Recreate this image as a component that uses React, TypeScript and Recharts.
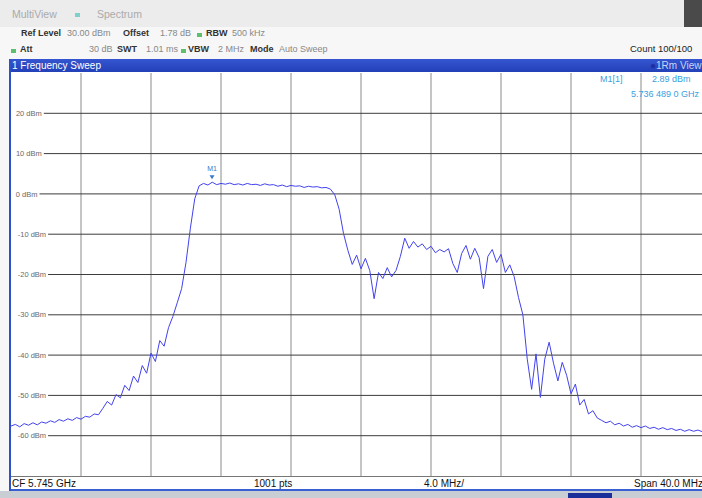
import { LineChart, Line, XAxis, YAxis, ReferenceLine, ReferenceDot } from "recharts";

// trace: power in dBm, one point every 0.25 MHz from 5.725 GHz (start) to 5.765 GHz (stop)
const STEP_MHZ = 0.25;
const power = [
  -57.6, -57.2, -57.8, -57.0, -57.4, -56.8, -57.3, -56.6, -56.9, -56.3,
  -56.7, -56.0, -56.4, -55.8, -56.2, -55.5, -55.9, -55.2, -55.4, -54.6,
  -54.8, -53.2, -51.5, -52.4, -49.8, -50.6, -47.5, -48.8, -45.2, -46.8,
  -42.6, -44.5, -39.5, -41.6, -36.4, -37.8, -33.2, -30.4, -27.0, -23.5,
  -17.0, -8.5, -1.2, 2.0, 2.6, 2.2, 2.9, 2.3, 2.6, 2.4,
  2.7, 2.3, 2.5, 2.2, 2.6, 2.3, 2.4, 2.1, 2.5, 2.2,
  2.3, 1.9, 2.2, 1.8, 2.1, 1.9, 2.0, 1.6, 1.9, 1.7,
  1.8, 1.5, 1.6, 1.2, -0.2, -3.8, -9.8, -14.0, -17.5, -15.2,
  -18.6, -16.0, -19.0, -26.0, -19.5, -21.0, -18.3, -20.6, -19.0, -15.5,
  -11.0, -13.5, -11.8, -13.2, -12.4, -13.8, -13.0, -14.6, -13.8, -14.4,
  -13.6, -17.3, -19.5, -14.8, -12.8, -16.2, -13.5, -15.8, -23.5, -15.5,
  -13.8, -17.0, -15.0, -19.5, -17.6, -20.5, -25.7, -30.0, -41.0, -48.5,
  -39.7, -50.5, -41.0, -36.8, -42.0, -46.4, -41.8, -45.0, -49.6, -47.2,
  -52.4, -51.0, -54.6, -53.8, -55.6, -56.2, -56.8, -56.4, -57.3, -56.9,
  -57.6, -57.2, -57.9, -57.5, -58.0, -57.6, -58.2, -57.9, -58.4, -58.0,
  -58.5, -58.2, -58.7, -58.4, -58.9, -58.5, -58.9, -58.6, -59.0, -58.7,
  -59.0,
];

const levelTicks = [20, 10, 0, -10, -20, -30, -40, -50, -60];
const freqTicks = [4, 8, 12, 16, 20, 24, 28, 32, 36];
const marker = { f: 11.489, p: 2.89 };

const data = power.map((p, i) => ({ f: i * STEP_MHZ, p }));

const W = 700;
const H = 403;
const font = "'Liberation Sans', Arial, sans-serif";

// where the grid line starts, just past its label (MHz)
const lineStart = (v: number) => {
  const label = `${v} dBm`;
  const px = 4 + label.length * 4.3 + 3;
  return (px / W) * 40;
};

const MarkerShape = (props: any) => {
  const { cx, cy } = props;
  return (
    <g>
      <polygon
        points={`${cx - 2.5},${cy - 7} ${cx + 2.5},${cy - 7} ${cx},${cy - 3}`}
        fill="#3a78c8"
      />
      <text x={cx} y={cy - 11} textAnchor="middle" fontSize={7} fill="#3a78c8" fontFamily={font}>
        M1
      </text>
    </g>
  );
};

const Txt = ({ x, y, bold, color, size, children }: any) => (
  <span
    style={{
      position: "absolute",
      left: x,
      top: y,
      fontSize: size || 9,
      fontWeight: bold ? "bold" : "normal",
      color: color || (bold ? "#333" : "#888"),
      whiteSpace: "nowrap",
    }}
  >
    {children}
  </span>
);

const Dot = ({ x, y, c }: any) => (
  <span style={{ position: "absolute", left: x, top: y, width: 5, height: 4, background: c }} />
);

export default function App() {
  return (
    <div
      style={{
        position: "absolute",
        left: 0,
        top: 0,
        width: 702,
        height: 498,
        overflow: "hidden",
        background: "#f7f7f7",
        fontFamily: font,
      }}
    >
      {/* tabs */}
      <div style={{ position: "absolute", left: 0, top: 0, width: 702, height: 27, background: "#ececec" }} />
      <Txt x={12} y={8} size={10.5} color="#aaa">MultiView</Txt>
      <Dot x={75} y={13} c="#7fd0c8" />
      <Txt x={97} y={8} size={10.5} color="#aaa">Spectrum</Txt>
      <div style={{ position: "absolute", left: 684, top: 0, width: 18, height: 27, background: "#4a4a4a" }} />

      {/* settings rows */}
      <Txt x={21} y={28} bold>Ref Level</Txt>
      <Txt x={67} y={28}>30.00 dBm</Txt>
      <Txt x={123} y={28} bold>Offset</Txt>
      <Txt x={160} y={28}>1.78 dB</Txt>
      <Dot x={197} y={33} c="#5fbf6f" />
      <Txt x={206} y={28} bold>RBW</Txt>
      <Txt x={232} y={28}>500 kHz</Txt>

      <Dot x={11} y={49} c="#5fbf6f" />
      <Txt x={20} y={44} bold>Att</Txt>
      <Txt x={89} y={44}>30 dB</Txt>
      <Txt x={117} y={44} bold>SWT</Txt>
      <Txt x={146} y={44}>1.01 ms</Txt>
      <Dot x={181} y={49} c="#5fbf6f" />
      <Txt x={188} y={44} bold>VBW</Txt>
      <Txt x={218} y={44}>2 MHz</Txt>
      <Txt x={250} y={44} bold>Mode</Txt>
      <Txt x={279} y={44}>Auto Sweep</Txt>
      <Txt x={630} y={43} size={9.5} color="#222">Count 100/100</Txt>

      {/* title bar */}
      <div
        style={{
          position: "absolute",
          left: 10,
          top: 59,
          width: 692,
          height: 13,
          background: "linear-gradient(#3556d0, #2240b8)",
          color: "#fff",
          fontSize: 10,
          lineHeight: "13px",
        }}
      >
        <span style={{ marginLeft: 2 }}>1 Frequency Sweep</span>
        <span style={{ position: "absolute", left: 640, color: "#c8d4f4", whiteSpace: "nowrap" }}>
          <span style={{ color: "#2030a0" }}>●</span>1Rm View
        </span>
      </div>

      {/* plot background */}
      <div style={{ position: "absolute", left: 10, top: 72, width: 692, height: 418, background: "#fff" }} />

      <div style={{ position: "absolute", left: 11, top: 73 }}>
        <LineChart width={W} height={H} data={data} margin={{ top: 0, right: 0, bottom: 0, left: 0 }}>
          <XAxis dataKey="f" type="number" domain={[0, 40]} hide />
          <YAxis type="number" domain={[-70, 30]} hide />
          {freqTicks.map((t) => (
            <ReferenceLine key={"v" + t} x={t} stroke="#8a8a8a" strokeWidth={1} />
          ))}
          {levelTicks.map((v) => (
            <ReferenceLine
              key={"h" + v}
              segment={[
                { x: lineStart(v), y: v },
                { x: 40, y: v },
              ]}
              stroke="#3c3c3c"
              strokeWidth={1}
              label={{
                value: `${v} dBm`,
                position: "left",
                offset: 2,
                fontSize: 7.5,
                fill: "#6a6a6a",
                fontFamily: font,
              }}
            />
          ))}
          <Line
            type="linear"
            dataKey="p"
            stroke="#4242ee"
            strokeWidth={1}
            dot={false}
            isAnimationActive={false}
          />
          <ReferenceDot x={marker.f} y={marker.p} shape={<MarkerShape />} />
        </LineChart>
      </div>

      {/* marker readout */}
      <Txt x={600} y={74} size={9} color="#3aa0e0">M1[1]</Txt>
      <Txt x={652} y={74} size={9} color="#3aa0e0">2.89 dBm</Txt>
      <Txt x={631} y={89} size={9} color="#3aa0e0">5.736 489 0 GHz</Txt>

      {/* footer */}
      <div
        style={{
          position: "absolute",
          left: 10,
          top: 476,
          width: 692,
          height: 13,
          background: "#fff",
          borderTop: "1px solid #777",
          fontSize: 10,
          lineHeight: "13px",
          color: "#111",
          whiteSpace: "nowrap",
        }}
      >
        <span style={{ position: "absolute", left: 2 }}>CF 5.745 GHz</span>
        <span style={{ position: "absolute", left: 244 }}>1001 pts</span>
        <span style={{ position: "absolute", left: 414 }}>4.0 MHz/</span>
        <span style={{ position: "absolute", left: 624 }}>Span 40.0 MHz</span>
      </div>
      <div style={{ position: "absolute", left: 10, top: 489, width: 692, height: 2, background: "#3a5fd0" }} />
      <div style={{ position: "absolute", left: 0, top: 491, width: 702, height: 7, background: "#c9ced4" }} />
      <div style={{ position: "absolute", left: 568, top: 493, width: 44, height: 5, background: "#1b2f9a" }} />

      {/* left border */}
      <div style={{ position: "absolute", left: 9, top: 59, width: 2, height: 432, background: "#3050c8" }} />
    </div>
  );
}
